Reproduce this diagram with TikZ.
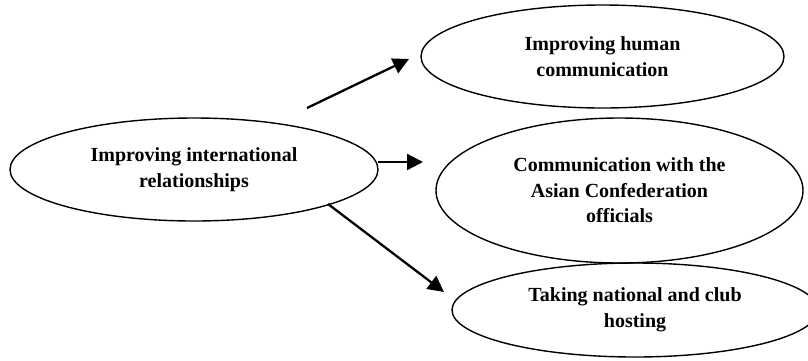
\documentclass[tikz,border=0pt]{standalone}
\usepackage{fontspec}
\setmainfont{Liberation Serif}
\usetikzlibrary{shapes.geometric,arrows.meta}
\begin{document}
\begin{tikzpicture}[x=1pt,y=-1pt,
  oval/.style={draw=black, line width=1.4pt, ellipse, inner sep=0pt, align=center,
    font=\fontsize{20}{25.5}\selectfont\bfseries},
  arr/.style={line width=2.3pt, -{Triangle[length=16pt,width=16pt]}}]
\useasboundingbox (0,0) rectangle (808,360);
\fill[white] (0,0) rectangle (808,360);
\node[oval, minimum width=368pt, minimum height=103pt] (L) at (194,169.5) {Improving international\\relationships};
\node[oval, minimum width=363pt, minimum height=103pt] (T) at (602.5,56.5) {Improving human\\communication};
\node[oval, minimum width=367pt, minimum height=145pt] (M) at (619.5,190.5) {Communication with the\\Asian Confederation\\officials};
\node[oval, minimum width=366pt, minimum height=94pt] (B) at (635,310) {Taking national and club\\hosting};
\coordinate (a1s) at (307,108);
\coordinate (a1e) at (409,59);
\coordinate (a2s) at (378,162);
\coordinate (a2e) at (423,162);
\coordinate (a3s) at (328,204);
\coordinate (a3e) at (444,292);
\draw[arr] (a1s) -- (a1e);
\draw[arr] (a2s) -- (a2e);
\draw[arr] (a3s) -- (a3e);
\end{tikzpicture}
\end{document}
